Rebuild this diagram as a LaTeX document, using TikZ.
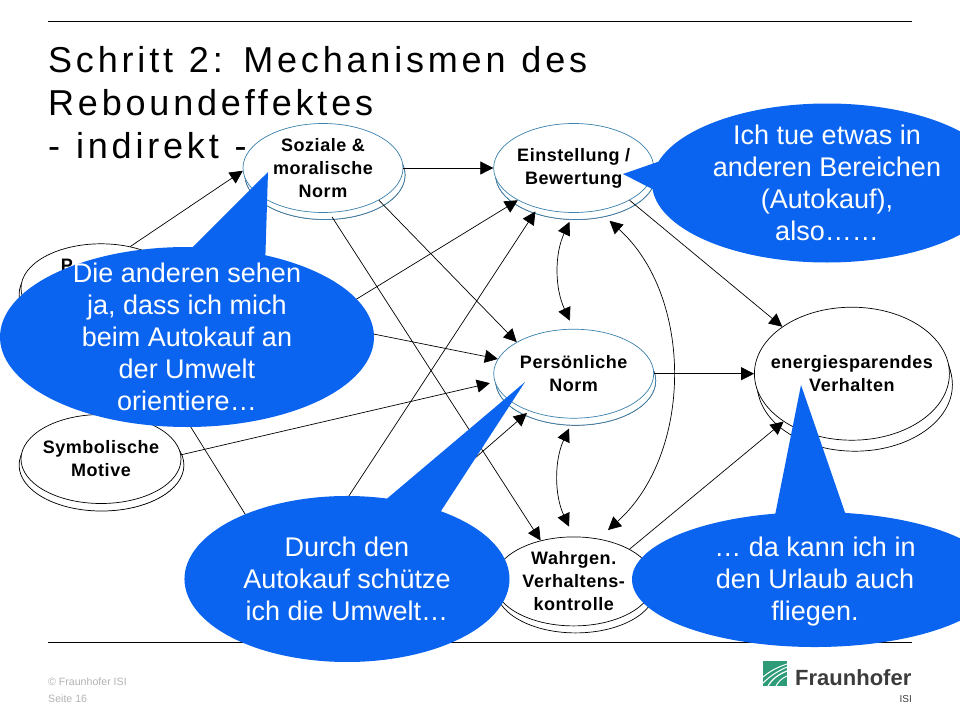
\documentclass[tikz,border=0pt]{standalone}
\usepackage{fontspec}
\setmainfont{Liberation Sans}
\newfontfamily\titlefont[LetterSpace=10.6,WordSpace=1.15]{Liberation Sans}
\newfontfamily\ovalfont[LetterSpace=3]{Liberation Sans}
\definecolor{blasenblau}{HTML}{0A64F0}
\definecolor{ovalblau}{HTML}{3A80AC}
\definecolor{fhgruen}{HTML}{2E9B78}
\definecolor{fhgrau}{HTML}{3C3C3C}
\usetikzlibrary{
    arrows.meta,
    shapes.geometric,
    shapes.callouts,
    shadows,
    positioning,
    calc
}
\tikzstyle{oval} = [
    ellipse,
    draw=black,
    fill=white,
    line width=0.7pt,
    inner sep=0pt,
    minimum width=160pt,
    minimum height=89pt,
    copy shadow={shadow xshift=2pt, shadow yshift=-7pt, draw=black, line width=0.7pt}
]
\tikzstyle{blueoval} = [
    oval,
    draw=ovalblau,
    copy shadow={shadow xshift=2pt, shadow yshift=-7pt, draw=ovalblau, line width=0.7pt}
]
\tikzstyle{leftoval} = [
    oval,
    copy shadow={shadow scale=1.03, shadow xshift=0.5pt, shadow yshift=-6pt, draw=black, line width=0.7pt}
]
\tikzstyle{ovaltext} = [
    align=center,
    inner sep=0pt,
    font=\ovalfont\fontsize{18}{23}\bfseries\selectfont
]
\tikzstyle{blase} = [
    ellipse callout,
    fill=blasenblau,
    inner sep=0pt
]
\tikzstyle{blasentext} = [
    align=center,
    inner sep=0pt,
    text=white,
    font=\fontsize{27}{32}\selectfont
]
\tikzstyle{arrow} = [
    ->,
    >={Triangle[length=13pt,width=13pt]},
    line width=0.7pt,
    draw=black
]
\tikzstyle{rulestyle} = [line width=0.9pt, draw=black]
\tikzstyle{footer} = [
    anchor=base west,
    inner sep=0pt,
    text=black!30,
    font=\fontsize{10.6}{12}\selectfont
]
\begin{document}
\begin{tikzpicture}[x=1pt, y=-1pt]
        \useasboundingbox (0,0) rectangle (960,720);

        % Rules
        \coordinate (ruleAl) at (48,21);
        \coordinate (ruleAr) at (912,21);
        \coordinate (ruleBl) at (48,642);
        \coordinate (ruleBr) at (912,642);
        \draw[rulestyle] (ruleAl) -- (ruleAr);
        \draw[rulestyle] (ruleBl) -- (ruleBr);

        % Title
        \node[anchor=north west, inner sep=0pt, align=left, font=\titlefont\fontsize{36}{43}\selectfont] (title) at (48,46.5) {Schritt 2: Mechanismen des\\Reboundeffektes\\- indirekt -};

        % Ovals
        \node[blueoval] (soziale) at (323,168) {};
        \node[ovaltext] at (soziale) {Soziale \&\\moralische\\Norm};
        \node[blueoval, right=90pt of soziale] (einstellung) {};
        \node[ovaltext] at (einstellung) {Einstellung /\\Bewertung};
        \node[blueoval, below=116pt of einstellung] (norm) {};
        \node[ovaltext] at (norm) {Persönliche\\Norm};
        \node[oval, below=118pt of norm] (wahrgen) {};
        \node[ovaltext] at (wahrgen) {Wahrgen.\\Verhaltens-\\kontrolle};
        \node[oval, minimum width=195pt, minimum height=133pt, right=100pt of norm,
              copy shadow={shadow xshift=3pt, shadow yshift=-11pt, draw=black, line width=0.7pt}] (verhalten) {};
        \node[ovaltext] at (verhalten) {energiesparendes\\Verhalten};
        \node[leftoval] (symbolik) at (101,459) {};
        \node[ovaltext] at (symbolik) {Symbolische\\Motive};
        \node[leftoval, above=81pt of symbolik] (pmotiv) {};
        \node[ovaltext, anchor=base west] (ptext) at ($(pmotiv.west)+(40,-17)$) {P};

        % Hidden ends of the arrows
        \coordinate (linksEnde) at (200,395);
        \coordinate (untenEndeA) at (300,602);
        \coordinate (untenEndeB) at (320,540);
        \coordinate (untenEndeC) at (400,523);

        % Arrows
        \draw[arrow] (pmotiv.55) -- (soziale.182);
        \draw[arrow] (soziale.east) -- (einstellung.west);
        \draw[arrow] (soziale.-30) -- (norm.151);
        \draw[arrow, shorten <=5pt] (soziale.-82) -- (wahrgen.129);
        \draw[arrow] (linksEnde) -- (einstellung.210);
        \draw[arrow] (pmotiv.-5) -- (norm.169);
        \draw[line width=0.7pt] (pmotiv.-55) -- (untenEndeA);
        \draw[arrow, shorten >=5pt] (symbolik.3) -- (norm.186);
        \draw[arrow, shorten >=4pt] (untenEndeB) -- (einstellung.228);
        \draw[arrow, shorten >=3pt] (untenEndeC) -- (norm.220);
        \draw[arrow] (einstellung.-30) -- (verhalten.146);
        \draw[arrow] (norm.east) -- (verhalten.west);
        \draw[arrow] (wahrgen.30) -- (verhalten.215);

        % Curved arrows
        \draw[arrow, <->, shorten <=10pt, shorten >=9pt] (einstellung.south) to[bend right=25] (norm.north);
        \draw[arrow, <->, shorten <=11pt, shorten >=11pt] (norm.south) to[bend right=25] (wahrgen.north);
        \draw[arrow, <->, shorten <=15pt, shorten >=13pt] (einstellung.-60) to[bend left=48] (wahrgen.60);

        % Callouts
        \node[blase, minimum width=374pt, minimum height=180pt, callout absolute pointer={(268,172)}, callout pointer arc=23] (blaseDie) at (187,337) {};
        \node[blasentext] at (blaseDie) {Die anderen sehen\\ja, dass ich mich\\beim Autokauf an\\der Umwelt\\orientiere…};
        \node[blase, minimum width=350pt, minimum height=159pt, callout absolute pointer={(623,174)}, callout pointer arc=20] (blaseIch) at (827,183) {};
        \node[blasentext] at (blaseIch) {Ich tue etwas in\\anderen Bereichen\\(Autokauf),\\also……};
        \node[blase, minimum width=325pt, minimum height=166pt, callout absolute pointer={(525,382)}, callout pointer arc=21] (blaseDurch) at (347,579) {};
        \node[blasentext] at (blaseDurch) {Durch den\\Autokauf schütze\\ich die Umwelt…};
        \node[blase, minimum width=366pt, minimum height=135pt, callout absolute pointer={(801,385)}, callout pointer arc=22] (blaseUrlaub) at (815,579.5) {};
        \node[blasentext, yshift=-2.5pt] at (blaseUrlaub) {… da kann ich in\\den Urlaub auch\\fliegen.};

        % Footer
        \node[footer] (copyright) at (48,685) {© Fraunhofer ISI};
        \node[footer] (seite) at (48,702) {Seite 16};

        % Logo
        \fill[fhgruen] (763,661) rectangle (787,686);
        \draw[white, line width=1pt] (763,683) .. controls (770,676) and (778,671) .. (787,667);
        \draw[white, line width=1pt] (763,677) .. controls (770,671) and (778,667) .. (787,664);
        \draw[white, line width=1.2pt] (768,686) .. controls (772,679) and (779,674) .. (787,671);
        \draw[white, line width=1pt] (776,686) .. controls (778,682) and (782,678) .. (787,676);
        \node[anchor=base west, inner sep=0pt, text=fhgrau, font=\fontsize{22}{24}\bfseries\selectfont] (fraunhofer) at (795,685) {Fraunhofer};
        \node[anchor=base east, inner sep=0pt, text=fhgrau, font=\fontsize{10}{12}\selectfont] (isi) at (912,702) {ISI};
    \end{tikzpicture}
\end{document}
